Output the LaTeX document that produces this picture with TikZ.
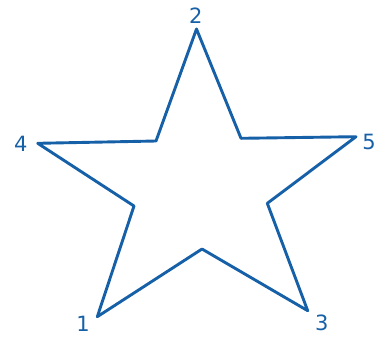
\documentclass[tikz,border=0pt]{standalone}
\usepackage{fontspec}
\setmainfont{DejaVu Sans}
\definecolor{inkblue}{RGB}{22,96,168}
\begin{document}
\begin{tikzpicture}[x=1pt,y=-1pt,
  starline/.style={draw=inkblue,line width=2.9pt,line join=round,line cap=round},
  lbl/.style={text=inkblue,font=\fontsize{21}{21}\selectfont,inner sep=0pt}]
\useasboundingbox (0,0) rectangle (377,338);
\coordinate (p2) at (196.5,29);
\coordinate (i5) at (241,138.3);
\coordinate (p5) at (356,136.7);
\coordinate (i3) at (267.3,203.3);
\coordinate (p3) at (307.7,310.7);
\coordinate (i1) at (202,249);
\coordinate (p1) at (97.3,316.7);
\coordinate (i4) at (134,206);
\coordinate (p4) at (37.7,143.3);
\coordinate (i2) at (156,141);
\draw[starline] (p2) -- (i5) -- (p5) -- (i3) -- (p3) -- (i1) -- (p1) -- (i4) -- (p4) -- (i2) -- cycle;
\node[lbl] (l2) at (195.7,15.7) {2};
\node[lbl] (l4) at (20.7,144) {4};
\node[lbl] (l5) at (369,141.7) {5};
\node[lbl] (l1) at (83,324) {1};
\node[lbl] (l3) at (321.7,323.3) {3};
\end{tikzpicture}
\end{document}
